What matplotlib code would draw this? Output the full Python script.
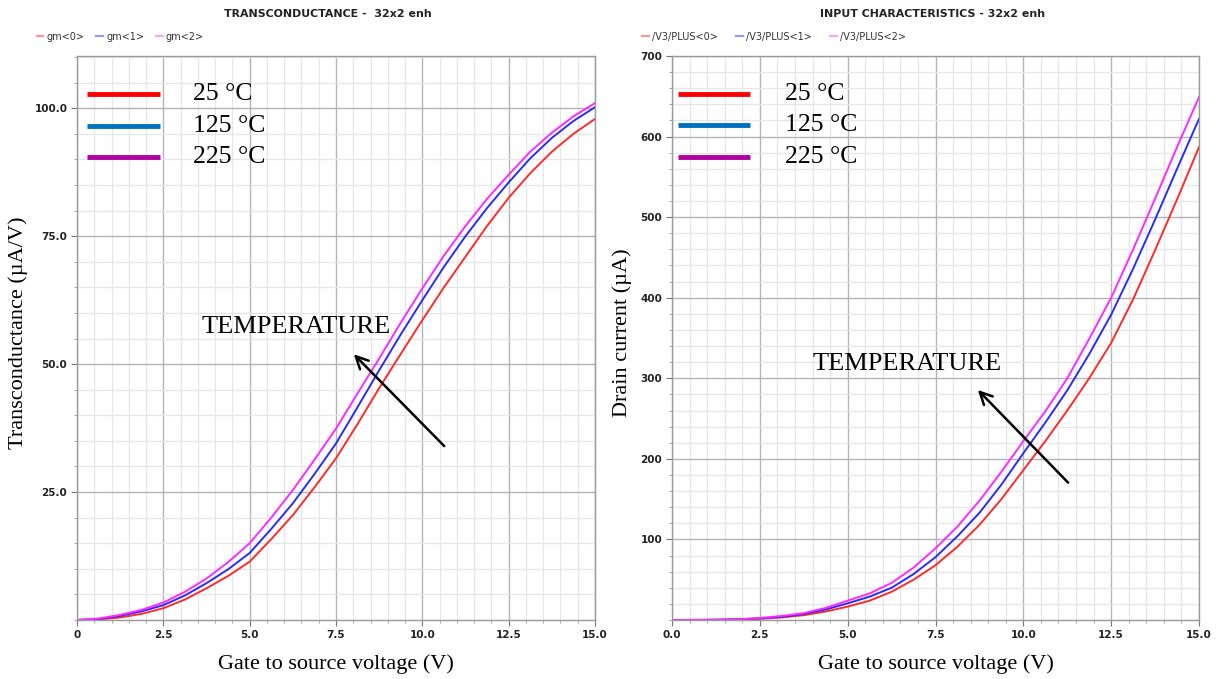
import matplotlib
matplotlib.use("Agg")
import matplotlib.pyplot as plt
from matplotlib.lines import Line2D
from matplotlib.ticker import MultipleLocator

# Gate-source voltage sweep (V)
vgs = [0, 0.625, 1.25, 1.875, 2.5, 3.125, 3.75, 4.375, 5.0, 5.625, 6.25, 6.875,
       7.5, 8.125, 8.75, 9.375, 10.0, 10.625, 11.25, 11.875, 12.5, 13.125,
       13.75, 14.375, 15.0]

# Transconductance (uA/V) at 25, 125, 225 degC
gm_25 = [0, 0.1, 0.5, 1.2, 2.3, 4.0, 6.2, 8.6, 11.4, 15.8, 20.5, 25.9, 31.6,
         38.3, 45.3, 52.0, 58.6, 65.0, 71.0, 77.0, 82.5, 87.3, 91.5, 95.0, 97.9]
gm_125 = [0, 0.2, 0.8, 1.7, 2.9, 4.8, 7.2, 9.9, 13.1, 17.8, 22.8, 28.5, 34.5,
          41.6, 48.8, 55.8, 62.5, 69.0, 75.0, 80.5, 85.5, 90.2, 94.2, 97.5, 100.2]
gm_225 = [0, 0.3, 1.0, 2.0, 3.4, 5.5, 8.1, 11.3, 15.0, 20.0, 25.4, 31.3, 37.4,
          44.3, 51.1, 58.1, 64.8, 71.2, 77.0, 82.3, 87.0, 91.5, 95.2, 98.4, 101.0]

# Drain current (uA) at 25, 125, 225 degC
id_25 = [0, 0.05, 0.2, 0.7, 1.5, 3.2, 6.0, 10.5, 16.6, 24, 35, 50, 68,
         91, 118, 150, 186, 222, 260, 300, 344, 398, 459, 522, 587]
id_125 = [0, 0.1, 0.3, 0.9, 2.0, 4.0, 7.5, 13, 20.7, 29, 40, 57, 78,
          104, 133, 168, 207, 245, 285, 330, 379, 436, 497, 560, 622]
id_225 = [0, 0.1, 0.3, 1.0, 2.5, 5.0, 8.5, 15, 24, 33, 46, 65, 89,
          116, 148, 184, 222, 259, 300, 349, 400, 460, 523, 587, 649]

temps = ["25 °C", "125 °C", "225 °C"]
gm_names = ["gm<0>", "gm<1>", "gm<2>"]
id_names = ["/V3/PLUS<0>", "/V3/PLUS<1>", "/V3/PLUS<2>"]

curve_colors = ["#ff2a2a", "#2a2aff", "#ff2aff"]
key_colors = ["#ff0000", "#0070c0", "#b000a0"]
pale_colors = ["#f49a9a", "#9a9af4", "#f7a4f7"]

serif = ["Liberation Serif", "DejaVu Serif"]

fig = plt.figure(figsize=(12.19, 6.79), dpi=100)
ax1 = fig.add_axes([0.0632, 0.0869, 0.4249, 0.8306])
ax2 = fig.add_axes([0.5513, 0.0869, 0.4323, 0.8306])


def style_axes(ax, ymax, yfmt, yminor, ylabels, xlabels):
    ax.set_xlim(0, 15)
    ax.set_ylim(0, ymax)
    ax.xaxis.set_minor_locator(MultipleLocator(0.5))
    ax.yaxis.set_minor_locator(MultipleLocator(yminor))
    ax.set_xticks([0, 2.5, 5, 7.5, 10, 12.5, 15], labels=xlabels)
    ax.set_yticks(ylabels, labels=[yfmt.format(v) for v in ylabels])
    ax.grid(which="major", color="#b4b4b4", linewidth=1.0)
    ax.grid(which="minor", color="#e6e6e6", linewidth=0.9)
    ax.set_axisbelow(True)
    for s in ax.spines.values():
        s.set_color("#9a9a9a")
        s.set_linewidth(1.0)
    ax.tick_params(which="major", direction="out", length=4, width=0.8,
                   color="#777777", labelsize=7.5, labelcolor="#222222", pad=3)
    ax.tick_params(which="minor", direction="out", length=2, width=0.6,
                   color="#999999")
    for lab in ax.get_xticklabels() + ax.get_yticklabels():
        lab.set_fontweight("bold")


# ---- Transconductance ----
for y, c in zip([gm_25, gm_125, gm_225], curve_colors):
    ax1.plot(vgs, y, color=c, linewidth=1.4)
style_axes(ax1, 110.2, "{:.1f}", 5, [25, 50, 75, 100],
           ["0", "2.5", "5.0", "7.5", "10.0", "12.5", "15.0"])

# ---- Input characteristics ----
for y, c in zip([id_25, id_125, id_225], curve_colors):
    ax2.plot(vgs, y, color=c, linewidth=1.4)
style_axes(ax2, 700, "{:.0f}", 20, [100, 200, 300, 400, 500, 600, 700],
           ["0.0", "2.5", "5.0", "7.5", "10.0", "12.5", "15.0"])

# Axis titles
fig.text(0.2757, 0.022, "Gate to source voltage (V)", family=serif, fontsize=16,
         ha="center", va="center")
fig.text(0.7675, 0.022, "Gate to source voltage (V)", family=serif, fontsize=16,
         ha="center", va="center")
fig.text(0.0150, 0.510, "Transconductance (µA/V)", family=serif, fontsize=16,
         ha="center", va="center", rotation=90)
fig.text(0.5105, 0.510, "Drain current (µA)", family=serif, fontsize=16,
         ha="center", va="center", rotation=90)

# Temperature keys drawn inside each plot
key_ys_1 = [102.7, 96.5, 90.4]
for yk, c, t in zip(key_ys_1, key_colors, temps):
    ax1.plot([0.29, 2.40], [yk, yk], color=c, linewidth=3.5, solid_capstyle="butt")
    ax1.text(3.36, yk, t, family=serif, fontsize=18.5, va="center", ha="left")
key_ys_2 = [653, 614, 575]
for yk, c, t in zip(key_ys_2, key_colors, temps):
    ax2.plot([0.17, 2.22], [yk, yk], color=c, linewidth=3.5, solid_capstyle="butt")
    ax2.text(3.22, yk, t, family=serif, fontsize=18.5, va="center", ha="left")

# Temperature trend arrows
ax1.annotate("", xy=(7.96, 52.3), xytext=(10.69, 33.6),
             arrowprops=dict(arrowstyle="->", color="black", lw=1.8,
                             mutation_scale=22))
ax1.text(3.62, 57.2, "TEMPERATURE", family=serif, fontsize=19, va="center", ha="left")
ax2.annotate("", xy=(8.65, 288), xytext=(11.33, 168),
             arrowprops=dict(arrowstyle="->", color="black", lw=1.8,
                             mutation_scale=22))
ax2.text(4.01, 318, "TEMPERATURE", family=serif, fontsize=19, va="center", ha="left")

# Titles and signal legends above each plot
fig.text(0.2690, 0.979, "TRANSCONDUCTANCE -  32x2 enh", fontsize=7.9,
         fontweight="bold", ha="center", va="center", color="#222222")
fig.text(0.7650, 0.979, "INPUT CHARACTERISTICS - 32x2 enh", fontsize=7.9,
         fontweight="bold", ha="center", va="center", color="#222222")


def signal_legend(x0, names, spacing):
    x = x0
    for n, c in zip(names, pale_colors):
        fig.add_artist(Line2D([x, x + 0.0055], [0.947, 0.947], color=c,
                              linewidth=1.6, transform=fig.transFigure))
        fig.text(x + 0.008, 0.946, n, fontsize=7, ha="left", va="center",
                 color="#333333")
        x += spacing


signal_legend(0.030, gm_names, 0.049)
signal_legend(0.527, id_names, 0.077)

fig.savefig("out.png", dpi=100)
